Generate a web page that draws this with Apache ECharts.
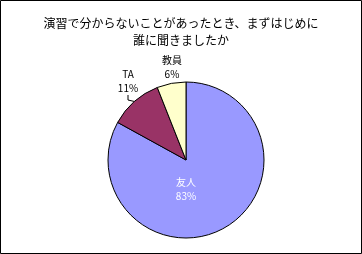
<!DOCTYPE html>
<html><head><meta charset="utf-8">
<script src="https://cdn.jsdelivr.net/npm/echarts@6/dist/echarts.min.js"></script>
<style>html,body{margin:0;padding:0;background:#fff}#c{width:362px;height:254px}</style>
</head><body><div id="c"></div>
<script>
const titleText = '演習で分からないことがあったとき、まずはじめに\n誰に聞きましたか';
const categories = ['友人', 'TA', '教員'];
const values = [83, 11, 6];
const colors = ['#9999FF', '#993366', '#FFFFCC'];
const labelPos = [[186, 189], [128, 81], [172, 67]];
const labelColors = ['#ffffff', '#000000', '#000000'];

const chart = echarts.init(document.getElementById('c'), null, {renderer: 'canvas'});
const font = '"Noto Sans CJK JP", sans-serif';
chart.setOption({
  animation: false,
  title: {
    text: titleText, left: 'center', top: 10,
    textStyle: {fontFamily: font, fontSize: 12, fontWeight: 'normal', color: '#000', lineHeight: 17}
  },
  graphic: [{
    type: 'rect', shape: {x: 0.5, y: 0.5, width: 361, height: 253},
    style: {fill: 'none', stroke: '#000', lineWidth: 1}, silent: true
  }],
  series: [{
    type: 'pie',
    center: [186, 160],
    radius: 78,
    startAngle: 90,
    clockwise: true,
    data: categories.map((n, i) => ({
      name: n, value: values[i],
      itemStyle: {color: colors[i]},
      label: {color: labelColors[i]},
      labelLine: {show: i === 1}
    })),
    itemStyle: {borderColor: '#000', borderWidth: 1},
    label: {
      show: true, position: 'outside',
      formatter: p => p.name + '\n' + p.value + '%',
      fontFamily: font, fontSize: 10, lineHeight: 14, align: 'center'
    },
    labelLine: {show: true, length: 5, length2: 5, lineStyle: {color: '#000', width: 1}},
    labelLayout: p => ({x: labelPos[p.dataIndex][0], y: labelPos[p.dataIndex][1], align: 'center', verticalAlign: 'middle'})
  }]
});
</script></body></html>
